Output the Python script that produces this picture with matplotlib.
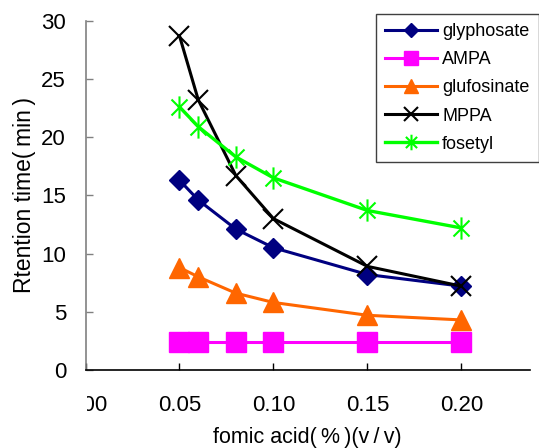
import matplotlib
matplotlib.use("Agg")
import matplotlib.pyplot as plt
from matplotlib.path import Path
from matplotlib.transforms import Bbox, TransformedBbox

plt.rcParams['font.family'] = ['Liberation Sans', 'DejaVu Sans']

# data
formic = [0.05, 0.06, 0.08, 0.10, 0.15, 0.20]
glyphosate = [16.3, 14.6, 12.1, 10.5, 8.2, 7.2]
ampa = [2.4, 2.4, 2.4, 2.4, 2.4, 2.4]
glufosinate = [8.8, 8.0, 6.6, 5.8, 4.7, 4.3]
mppa = [28.7, 23.2, 16.7, 13.0, 8.9, 7.2]
fosetyl = [22.6, 20.9, 18.3, 16.5, 13.7, 12.2]

xticks = [0.0, 0.05, 0.10, 0.15, 0.20]
xticklabels = ['0.00', '0.05', '0.10', '0.15', '0.20']
yticks = [0, 5, 10, 15, 20, 25, 30]

# excel style star: vertical bar plus an x
star = Path([(0, -1), (0, 1), (-0.72, -0.72), (0.72, 0.72), (-0.72, 0.72), (0.72, -0.72)],
            [Path.MOVETO, Path.LINETO, Path.MOVETO, Path.LINETO, Path.MOVETO, Path.LINETO])

fig = plt.figure(figsize=(5.39, 4.48), dpi=100)
ax = fig.add_axes([85.5 / 539, 78 / 448, 444.5 / 539, 349.3 / 448])

ax.plot(formic, glyphosate, '-D', color='#000080', lw=2.2, ms=10, label='glyphosate')
ax.plot(formic, ampa, '-s', color='#FF00FF', lw=2.2, ms=14, label='AMPA')
ax.plot(formic, glufosinate, '-^', color='#FF6600', lw=2.2, ms=14, label='glufosinate')
ax.plot(formic, mppa, '-x', color='black', lw=2.2, ms=15, mew=1.5, label='MPPA')
ax.plot(formic, fosetyl, '-', marker=star, color='#00FF00', lw=2.4, ms=16, mew=1.5,
        label='fosetyl')

ax.set_xlim(0, 0.2365)
ax.set_ylim(0, 30)
ax.set_xticks(xticks)
ax.set_xticklabels(xticklabels)
ax.set_yticks(yticks)

for s in ['top', 'right']:
    ax.spines[s].set_visible(False)
ax.spines['left'].set_color('#808080')
ax.spines['left'].set_linewidth(1.2)
ax.spines['bottom'].set_color('black')
ax.spines['bottom'].set_linewidth(1.2)

ax.tick_params(axis='x', direction='in', length=5, width=1, color='black',
               labelsize=16, pad=18)
ax.tick_params(axis='y', direction='in', length=5, width=1, color='#808080',
               labelsize=16, pad=14)

# the 0.00 label is cut at the axis line in the original
lab0 = ax.get_xticklabels()[0]
lab0.set_clip_on(True)
lab0.set_clip_box(TransformedBbox(Bbox([[0.003, -1], [2, 2]]), ax.transAxes))

ax.set_xlabel('fomic acid(\u2009%\u2009)(v\u2009/\u2009v)', fontsize=15.5, labelpad=8)
ax.set_ylabel('Rtention time(\u2009min\u2009)', fontsize=16.5, labelpad=4)

leg = ax.legend(loc='upper right', bbox_to_anchor=(538.5 / 539, 1 - 14 / 448),
                bbox_transform=fig.transFigure, borderaxespad=0, fontsize=13,
                markerscale=0.7, handlelength=2.9, handletextpad=0.28,
                labelspacing=0.62, borderpad=0.5, fancybox=False, framealpha=1)
leg.get_frame().set_edgecolor('#404040')
leg.get_frame().set_linewidth(1)

fig.savefig('out.png', dpi=100)
